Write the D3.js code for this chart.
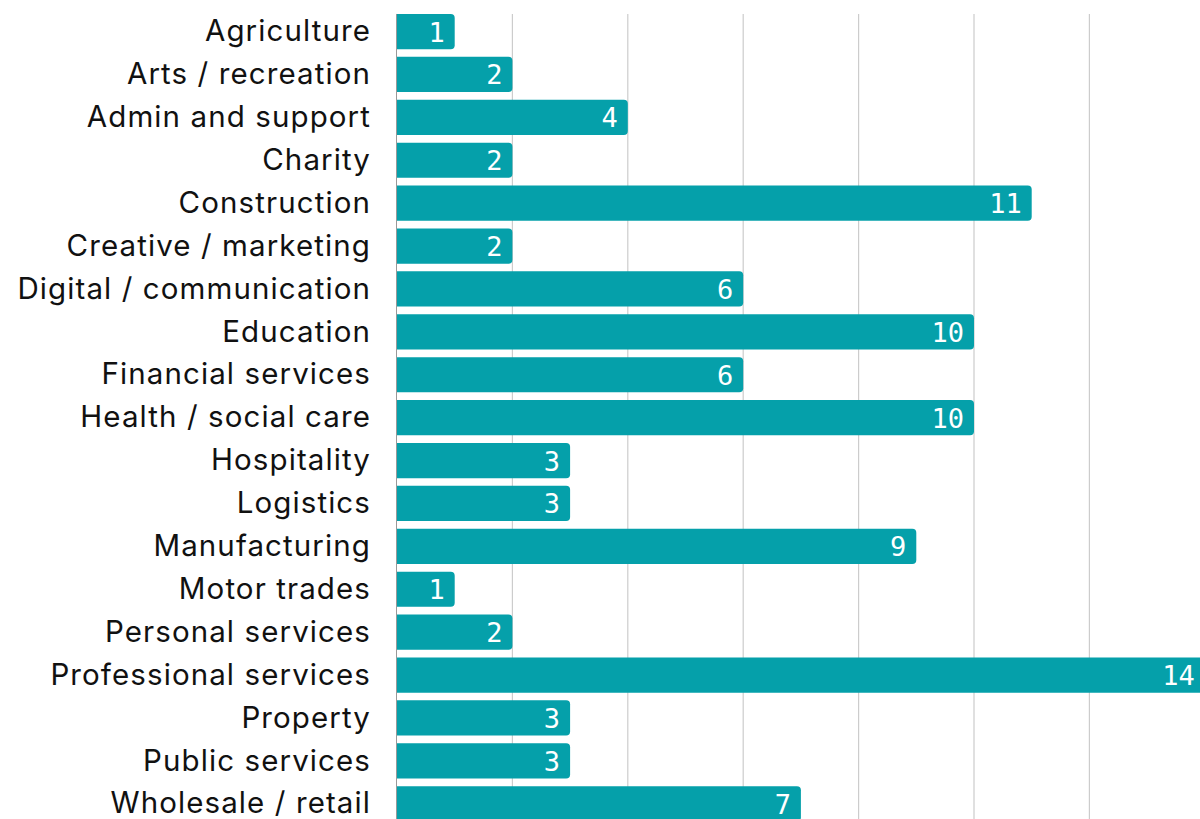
<!DOCTYPE html>
<html>
<head>
<meta charset="utf-8">
<script src="https://cdn.jsdelivr.net/npm/d3@7"></script>
<style>
  html, body { margin: 0; padding: 0; background: #fff; }
  svg { display: block; }
</style>
</head>
<body>
<svg id="chart" width="1200" height="819"></svg>
<script>
// Number of businesses per sector
const sectors = [
  "Agriculture", "Arts / recreation", "Admin and support", "Charity",
  "Construction", "Creative / marketing", "Digital / communication",
  "Education", "Financial services", "Health / social care", "Hospitality",
  "Logistics", "Manufacturing", "Motor trades", "Personal services",
  "Professional services", "Property", "Public services", "Wholesale / retail"
];
const counts = [1, 2, 4, 2, 11, 2, 6, 10, 6, 10, 3, 3, 9, 1, 2, 14, 3, 3, 7];
const gridTicks = [2, 4, 6, 8, 10, 12];

const svg = d3.select("#chart");
const W = 1200, H = 819;
const x0 = 397;
const unit = 57.7;

const x = d3.scaleLinear().domain([0, 14]).range([x0, x0 + 14 * unit]);
const y = d3.scaleBand()
  .domain(sectors)
  .range([10.1, 10.1 + 19 * 42.9])
  .paddingInner(0.18)
  .paddingOuter(0.09);

const plotTop = y(sectors[0]);

// vertical gridlines
svg.append("g")
  .selectAll("line")
  .data(gridTicks)
  .join("line")
  .attr("x1", d => x(d)).attr("x2", d => x(d))
  .attr("y1", plotTop).attr("y2", H)
  .attr("stroke", "#cccccc")
  .attr("stroke-width", 1.2);

// baseline axis
svg.append("line")
  .attr("x1", x(0) - 0.5).attr("x2", x(0) - 0.5)
  .attr("y1", plotTop).attr("y2", H)
  .attr("stroke", "#999")
  .attr("stroke-width", 1);

const r = 4;
function barPath(v, yy, h) {
  const x1 = x(0), x2 = x(v);
  return `M${x1},${yy}H${x2 - r}A${r},${r} 0 0 1 ${x2},${yy + r}` +
    `V${yy + h - r}A${r},${r} 0 0 1 ${x2 - r},${yy + h}H${x1}Z`;
}

svg.append("g")
  .selectAll("path")
  .data(sectors)
  .join("path")
  .attr("d", (d, i) => barPath(counts[i], y(d), y.bandwidth()))
  .attr("fill", "#05a0aa");

// value labels inside bars
svg.append("g")
  .selectAll("text")
  .data(sectors)
  .join("text")
  .attr("x", (d, i) => x(counts[i]) - 10)
  .attr("y", d => y(d) + y.bandwidth() / 2)
  .attr("dy", "0.37em")
  .attr("text-anchor", "end")
  .attr("fill", "#fff")
  .attr("font-family", "'DejaVu Sans Mono', monospace")
  .attr("font-size", 27)
  .text((d, i) => counts[i]);

// category labels
svg.append("g")
  .selectAll("text")
  .data(sectors)
  .join("text")
  .attr("x", 371)
  .attr("y", d => y(d) + y.bandwidth() / 2)
  .attr("dy", "0.33em")
  .attr("text-anchor", "end")
  .attr("fill", "#111")
  .attr("font-family", "Inter, 'Noto Sans', sans-serif")
  .attr("font-size", 29.5)
  .attr("letter-spacing", 1.1)
  .text(d => d);
</script>
</body>
</html>
